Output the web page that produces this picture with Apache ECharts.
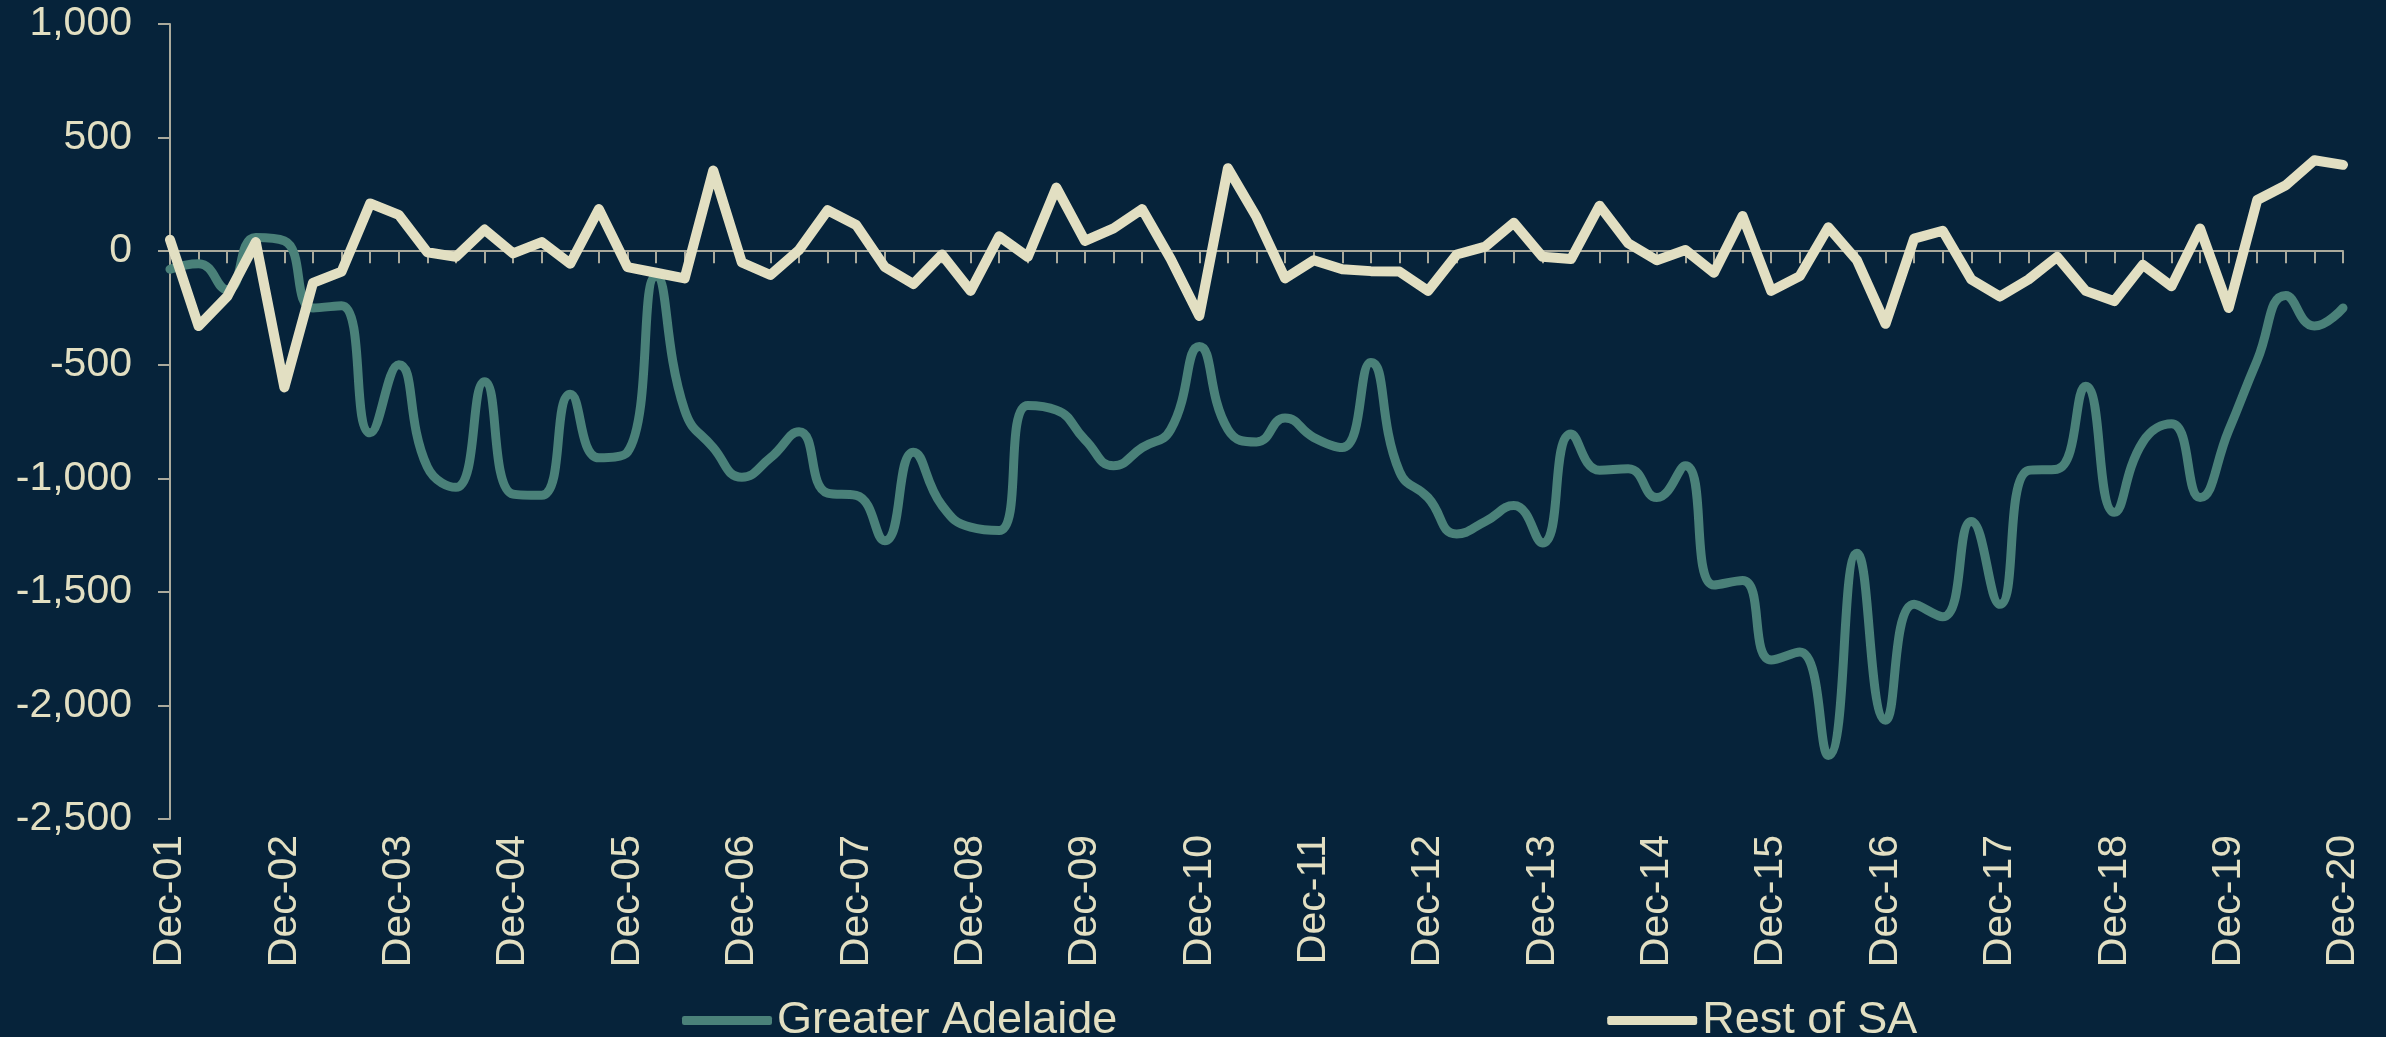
<!DOCTYPE html>
<html>
<head>
<meta charset="utf-8">
<script src="https://cdn.jsdelivr.net/npm/echarts@6/dist/echarts.min.js"></script>
<style>
  html, body { margin: 0; padding: 0; background: #06233a; }
  #chart { width: 2386px; height: 1037px; }
</style>
</head>
<body>
<div id="chart"></div>
<script>
// quarterly, Dec-01 .. Dec-20
const quarterNames = ['Dec', 'Mar', 'Jun', 'Sep'];
const firstYear = 1; // 2001
const lastYear = 20; // 2020

const greaterAdelaide = [
  -80, -55, -170, 60, 45, -250, -240, -800, -500, -950,
  -1040, -575, -1070, -1075, -630, -910, -885, -110, -700, -865,
  -995, -910, -795, -1065, -1075, -1275, -885, -1120, -1215, -1230,
  -680, -700, -830, -945, -865, -785, -420, -785, -840, -735,
  -820, -865, -490, -970, -1085, -1245, -1190, -1120, -1285, -805,
  -965, -958, -1085, -945, -1470, -1450, -1800, -1765, -2220, -1330,
  -2065, -1555, -1610, -1190, -1555, -965, -960, -595, -1150, -840,
  -760, -1085, -790, -480, -195, -330, -250
];

const restOfSA = [
  50, -330, -200, 40, -600, -140, -90, 210, 160, -5,
  -25, 95, -10, 40, -55, 185, -70, -95, -120, 355,
  -50, -105, 5, 180, 115, -70, -145, -15, -175, 65,
  -25, 280, 45, 100, 185, -35, -285, 365, 150, -120,
  -40, -80, -88, -90, -175, -15, 20, 125, -25, -35,
  200, 35, -40, 5, -95, 155, -175, -110, 105, -40,
  -320, 55, 90, -125, -200, -125, -25, -175, -220, -60,
  -155, 100, -250, 225, 290, 400, 380
];

const categories = [];
for (let y = firstYear; y <= lastYear; y++) {
  for (let q = 0; q < 4; q++) {
    if (y === lastYear && q > 0) break;
    const yr = q === 0 ? y : y + 1;
    categories.push(quarterNames[q] + '-' + String(yr).padStart(2, '0'));
  }
}

const textColor = '#e2dfc2';
const axisColor = '#aaaa9c';
const fontFamily = '"Liberation Sans", Arial, sans-serif';

const myChart = echarts.init(document.getElementById('chart'));
const option = {
  backgroundColor: '#06233a',
  animation: false,
  grid: {
    left: 170,
    right: 43,
    top: 24,
    bottom: 218,
    containLabel: false
  },
  legend: {
    left: 677,
    top: 993,
    icon: 'roundRect',
    itemWidth: 90,
    itemHeight: 9,
    itemGap: 490,
    textStyle: {
      color: textColor,
      fontSize: 45,
      fontFamily: fontFamily
    },
    data: ['Greater Adelaide', 'Rest of SA']
  },
  xAxis: [
    {
      // labels along the bottom
      type: 'category',
      data: categories,
      boundaryGap: false,
      position: 'bottom',
      axisLine: { show: false, onZero: false },
      axisTick: { show: false },
      axisLabel: {
        interval: 3,
        rotate: 90,
        margin: 16,
        color: textColor,
        fontSize: 41,
        fontFamily: fontFamily
      },
      splitLine: { show: false }
    },
    {
      // zero line with quarter ticks
      type: 'category',
      data: categories,
      boundaryGap: false,
      position: 'bottom',
      axisLine: { show: true, onZero: true, lineStyle: { color: axisColor, width: 2 } },
      axisTick: { show: true, interval: 0, length: 12, lineStyle: { color: axisColor, width: 2 } },
      axisLabel: { show: false },
      splitLine: { show: false }
    }
  ],
  yAxis: {
    type: 'value',
    min: -2500,
    max: 1000,
    interval: 500,
    axisLine: { show: true, lineStyle: { color: axisColor, width: 2 } },
    axisTick: { show: true, length: 12, lineStyle: { color: axisColor, width: 2 } },
    axisLabel: {
      margin: 38,
      color: textColor,
      fontSize: 41,
      fontFamily: fontFamily,
      formatter: function (v) { return v.toLocaleString('en-US'); }
    },
    splitLine: { show: false }
  },
  series: [
    {
      name: 'Greater Adelaide',
      type: 'line',
      xAxisIndex: 0,
      data: greaterAdelaide,
      smooth: true,
      symbol: 'none',
      color: '#4a8179',
      lineStyle: { width: 9, color: '#4a8179', cap: 'round', join: 'round' }
    },
    {
      name: 'Rest of SA',
      type: 'line',
      xAxisIndex: 0,
      data: restOfSA,
      symbol: 'none',
      color: '#e2dfc2',
      lineStyle: { width: 10, color: '#e2dfc2', cap: 'round', join: 'round' }
    }
  ]
};
myChart.setOption(option);
window.addEventListener('resize', function () {
  myChart.resize();
});
</script>
</body>
</html>
